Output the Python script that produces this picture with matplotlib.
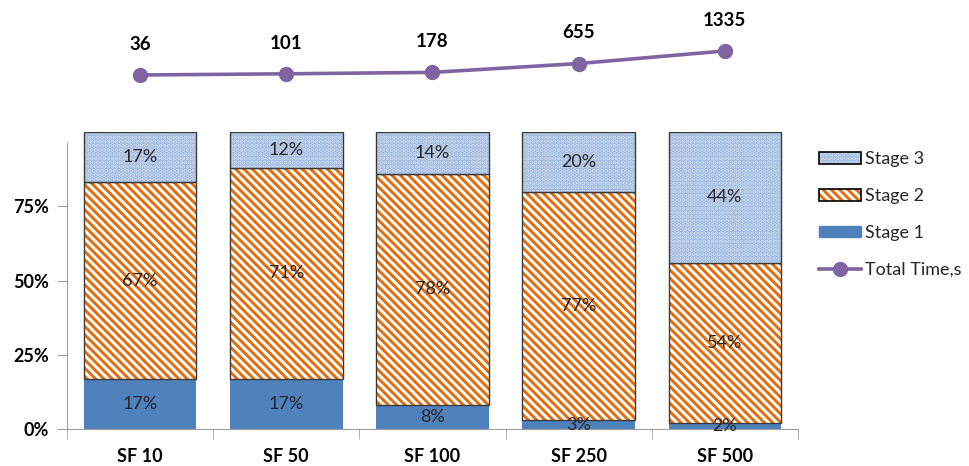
import matplotlib
matplotlib.use("Agg")
import matplotlib.pyplot as plt
from matplotlib.patches import Patch
from matplotlib.lines import Line2D
import numpy as np

plt.rcParams['font.family'] = ['Lato', 'DejaVu Sans']
plt.rcParams['hatch.linewidth'] = 2.1

categories = ["SF 10", "SF 50", "SF 100", "SF 250", "SF 500"]
stage1 = [17, 17, 8, 3, 2]
stage2 = [67, 71, 78, 77, 54]
stage3 = [17, 12, 14, 20, 44]
total_time = [36, 101, 178, 655, 1335]

c_stage1 = "#4f81bd"
c_stage2 = "#e46c0a"
c_stage3_bg = "#9bb6df"
c_stage3_dot = "#cbd9ee"
c_line = "#8064a2"
c_edge = "#3a3a3a"
c_txt = "#262626"

s1 = np.array(stage1, float)
s2 = np.array(stage2, float)
s3 = np.array(stage3, float)
tot = s1 + s2 + s3
f1, f2, f3 = s1 / tot, s2 / tot, s3 / tot

fig = plt.figure(figsize=(9.7, 4.66), dpi=100)
ax = fig.add_axes([0.069, 0.0794, 0.7536, 0.637])
x = np.arange(len(categories))
w = 0.77
h2 = "\\\\\\\\"
h3 = "...."

ax.bar(x, f1, w, color=c_stage1, linewidth=0)
ax.bar(x, f2, w, bottom=f1, facecolor="white", edgecolor=c_stage2, hatch=h2, linewidth=0)
ax.bar(x, f2, w, bottom=f1, fill=False, edgecolor=c_edge, linewidth=1.0)
ax.bar(x, f3, w, bottom=f1 + f2, facecolor=c_stage3_bg, edgecolor=c_stage3_dot, hatch=h3, linewidth=0)
ax.bar(x, f3, w, bottom=f1 + f2, fill=False, edgecolor=c_edge, linewidth=1.0)

for i in range(len(categories)):
    ax.text(x[i], f1[i] / 2, f"{stage1[i]}%", ha="center", va="center", fontsize=13, color=c_txt)
    ax.text(x[i], f1[i] + f2[i] / 2, f"{stage2[i]}%", ha="center", va="center", fontsize=13, color=c_txt)
    ax.text(x[i], f1[i] + f2[i] + f3[i] / 2, f"{stage3[i]}%", ha="center", va="center", fontsize=13, color=c_txt)

ax.set_xlim(-0.5, len(categories) - 0.5)
ax.set_ylim(0, 1)
ax.set_yticks([0, 0.25, 0.5, 0.75])
ax.set_yticklabels(["0%", "25%", "50%", "75%"], fontsize=13, fontweight="bold")
ax.set_xticks(x)
ax.set_xticklabels(categories, fontsize=13, fontweight="bold")
ax.set_xticks(np.arange(-0.5, len(categories)), minor=True)
ax.tick_params(axis="x", which="major", length=0, pad=14)
ax.tick_params(axis="x", which="minor", length=7, color="#a0a0a0", direction="out")
ax.tick_params(axis="y", length=7, color="#a0a0a0", pad=6)
for s in ["top", "right"]:
    ax.spines[s].set_visible(False)
ax.spines["left"].set_color("#a0a0a0")
ax.spines["bottom"].set_color("#a0a0a0")
ax.spines["left"].set_bounds(0, 0.965)

# line of total time above the bars
ax2 = fig.add_axes([0.069, 0.7854, 0.7536, 0.1717])
ax2.plot(x, total_time, color=c_line, linewidth=2.6, marker="o", markersize=10)
ax2.set_xlim(-0.5, len(categories) - 0.5)
ax2.set_ylim(-1315, 3009)
ax2.axis("off")
for i, v in enumerate(total_time):
    ax2.annotate(str(v), (x[i], v), xytext=(0, 22), textcoords="offset points",
                 ha="center", va="center", fontsize=13.5, fontweight="bold", color="black")

handles = [
    (Patch(facecolor=c_stage3_bg, edgecolor=c_stage3_dot, hatch=h3, linewidth=0),
     Patch(fill=False, edgecolor="black", linewidth=1.2)),
    (Patch(facecolor="white", edgecolor=c_stage2, hatch=h2, linewidth=0),
     Patch(fill=False, edgecolor="black", linewidth=1.2)),
    Patch(facecolor=c_stage1, edgecolor=c_stage1),
    Line2D([], [], color=c_line, linewidth=2.6, marker="o", markersize=10),
]
labels = ["Stage 3", "Stage 2", "Stage 1", "Total Time,s"]
fig.legend(handles, labels, loc="upper left", bbox_to_anchor=(0.828, 0.71), frameon=False,
           fontsize=13, handlelength=2.3, handleheight=0.6, handletextpad=0.2,
           labelspacing=1.15, labelcolor=c_txt)

fig.savefig("out.png", dpi=100)
